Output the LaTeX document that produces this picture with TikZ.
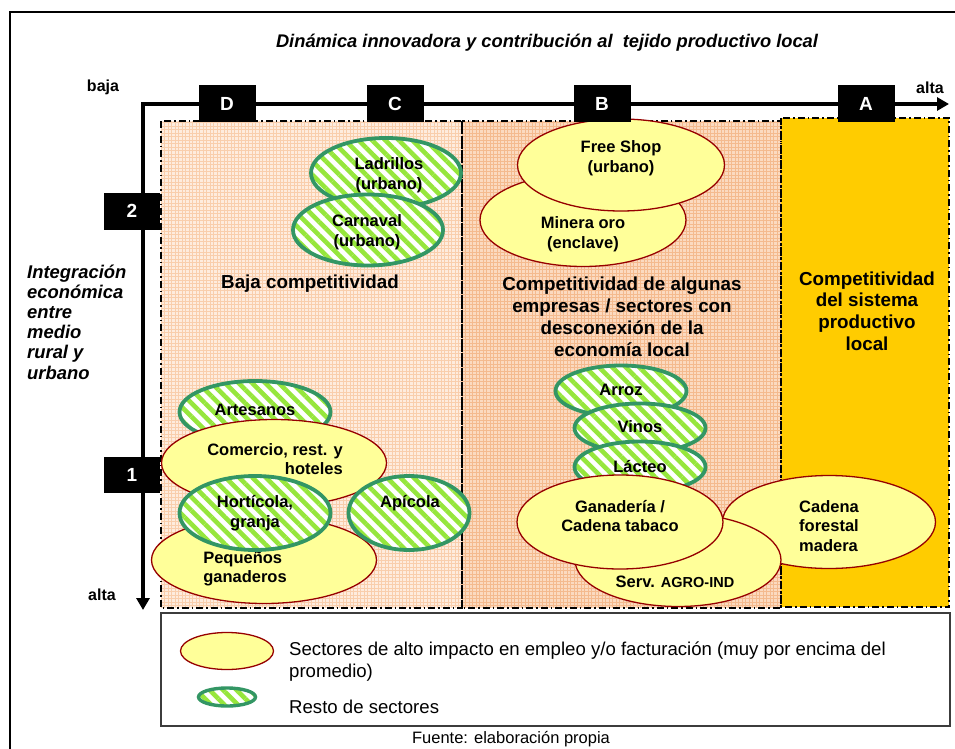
\documentclass[tikz,border=0pt]{standalone}
\usepackage{fontspec}
\setmainfont{Liberation Sans}
\usetikzlibrary{shapes.geometric,patterns.meta,arrows.meta}
\definecolor{peachL}{RGB}{254,236,222}
\definecolor{peachLg}{RGB}{249,206,172}
\definecolor{peachM}{RGB}{251,218,192}
\definecolor{peachMg}{RGB}{244,186,142}
\definecolor{gold}{RGB}{255,204,0}
\definecolor{lyellow}{RGB}{255,255,153}
\definecolor{dkred}{RGB}{150,0,0}
\definecolor{sgreen}{RGB}{51,150,100}
\definecolor{lgreen}{RGB}{150,230,60}
\definecolor{legframe}{RGB}{60,60,60}
\begin{document}
\begin{tikzpicture}[x=1pt,y=-1pt,
  yell/.style={ellipse, draw=dkred, line width=1.3pt, fill=lyellow, inner sep=0pt},
  stripe/.style={ellipse, draw=sgreen, line width=3.8pt, preaction={fill=white},
    pattern={Lines[angle=-45,distance=9.5pt,line width=4.6pt]}, pattern color=lgreen, inner sep=0pt},
  lbl/.style={font=\bfseries\fontsize{16.5}{19.5}\selectfont, align=center, inner sep=0pt},
  zone/.style={font=\bfseries\fontsize{18.8}{22}\selectfont, align=center, inner sep=0pt},
  blk/.style={fill=black, text=white, font=\bfseries\fontsize{19}{19}\selectfont,
    minimum width=57pt, minimum height=37pt, inner sep=0pt},
  axlbl/.style={font=\bfseries\fontsize{16}{18}\selectfont, inner sep=0pt},
  panelborder/.style={dash pattern=on 7pt off 3pt on 1.5pt off 3pt, line width=1.6pt},
  axisline/.style={line width=3.5pt, {Triangle[length=12pt,width=13pt]}-{Triangle[length=12pt,width=13pt]}},
  legtxt/.style={font=\fontsize{18.6}{22}\selectfont, align=left, inner sep=0pt, anchor=west}]

\useasboundingbox (0,0) rectangle (955,749);
\fill[white] (0,0) rectangle (955,749);

% outer frame
\draw[line width=2pt] (10,749) -- (10,12) -- (955,12);

% heading
\node[font=\bfseries\itshape\fontsize{18.3}{22}\selectfont, inner sep=0pt] (title) at (547,43)
  {Dinámica innovadora y contribución al\ \ tejido productivo local};

% zones D-C, B and A
\fill[peachL] (161,121) rectangle (462,608);
\begin{scope}
  \clip (161,121) rectangle (462,608);
  \draw[peachLg, line width=0.5pt, step=3.5pt] (161,121) grid (462,608);
\end{scope}
\fill[peachM] (462,121) rectangle (781,608);
\begin{scope}
  \clip (462,121) rectangle (781,608);
  \draw[peachMg, line width=0.5pt, step=3.5pt] (462,121) grid (781,608);
\end{scope}
\fill[gold] (781,118) rectangle (949,607);
\draw[panelborder] (161,121) rectangle (462,608);
\draw[panelborder] (462,121) rectangle (781,608);
\draw[panelborder] (781,118) rectangle (949,607);

% zone D-C sectors
\node[stripe, minimum width=150pt, minimum height=70pt] (ladr) at (386,173) {};
\node[lbl] (ladrt) at (389,175) {Ladrillos\\(urbano)};
\node[stripe, minimum width=150pt, minimum height=71pt] (carn) at (368,230) {};
\node[lbl] (carnt) at (367,232) {Carnaval\\(urbano)};
\node[zone] (bajac) at (310,284) {Baja competitividad};

\node[stripe, minimum width=151pt, minimum height=62pt] (arte) at (255,412) {};
\node[lbl] (artet) at (255,410) {Artesanos};
\node[yell, minimum width=225pt, minimum height=87pt] (peq) at (264,560) {};
\node[lbl, align=left] (peqt) at (245,569) {Pequeños\\ganaderos};
\node[yell, minimum width=225pt, minimum height=87pt] (comer) at (274,463) {};
\node[lbl, align=right] (comert) at (275,459) {Comercio, rest. y\\hoteles};
\node[stripe, minimum width=151pt, minimum height=74pt] (hort) at (255,513) {};
\node[lbl] (hortt) at (255,513) {Hortícola,\\granja};
\node[stripe, minimum width=121pt, minimum height=74pt] (apic) at (409,513) {};
\node[lbl] (apict) at (410,503) {Apícola};

% zone B sectors
\node[yell, minimum width=206pt, minimum height=93pt] (miner) at (583,220) {};
\node[lbl] (minert) at (583,234) {Minera oro\\(enclave)};
\node[yell, minimum width=207pt, minimum height=92pt] (fshop) at (621,165) {};
\node[lbl] (fshopt) at (621,158) {Free Shop\\(urbano)};
\node[zone] (bcomp) at (622,317) {Competitividad de algunas\\empresas / sectores con\\desconexión de la\\economía local};

\node[stripe, minimum width=131pt, minimum height=51pt] (arroz) at (621,391) {};
\node[lbl] (arrozt) at (621,390) {Arroz};
\node[stripe, minimum width=131pt, minimum height=49pt] (vinos) at (640,428) {};
\node[lbl] (vinost) at (640,427) {Vinos};
\node[stripe, minimum width=131pt, minimum height=51pt] (lact) at (640,467) {};
\node[lbl] (lactt) at (640,467) {Lácteo};

% zone A
\node[zone, font=\bfseries\fontsize{18.8}{21.7}\selectfont] (acomp) at (867,311) {Competitividad\\del sistema\\productivo\\local};
\node[yell, minimum width=213pt, minimum height=93pt] (caden) at (829,522) {};
\node[lbl, align=left] (cadent) at (829,526) {Cadena\\forestal\\madera};
\node[yell, minimum width=206pt, minimum height=93pt] (serv) at (678,560) {};
\node[lbl] (servt) at (675,582) {Serv. {\fontsize{14.5}{16}\selectfont AGRO-IND}};
\node[yell, minimum width=206pt, minimum height=94pt] (ganad) at (620,522) {};
\node[lbl] (ganadt) at (620,516) {Ganadería /\\Cadena tabaco};

% axes
\coordinate (orig) at (143,104);
\coordinate (xend) at (949,104);
\coordinate (yend) at (143,610);
\draw[axisline, line join=miter] (xend) -- (orig) -- (yend);

% level boxes
\node[blk] (bD) at (227,104) {D};
\node[blk] (bC) at (395,104) {C};
\node[blk] (bB) at (602,104) {B};
\node[blk] (bA) at (866,104) {A};
\node[blk, minimum width=56pt] (b2) at (132,211) {2};
\node[blk, minimum width=56pt, minimum height=36pt] (b1) at (132,475) {1};

\node[axlbl] (xlow) at (103,87) {baja};
\node[axlbl] (xhigh) at (930,88) {alta};
\node[axlbl] (yhigh) at (102,595) {alta};
\node[font=\bfseries\itshape\fontsize{18.4}{20.2}\selectfont, align=left, inner sep=0pt, anchor=west] (ylab) at (27,322)
  {Integración\\económica\\entre\\medio\\rural y\\urbano};

% legend
\draw[legframe, line width=1.5pt, fill=white] (161,613) rectangle (950,726);
\node[yell, minimum width=93pt, minimum height=37pt] (legy) at (227,651) {};
\node[stripe, line width=3.4pt, minimum width=57pt, minimum height=18pt] (legg) at (227,697) {};
\node[legtxt] (legyt) at (289,662) {Sectores de alto impacto en empleo y/o facturación (muy por encima del\\promedio)};
\node[legtxt] (leggt) at (289,707) {Resto de sectores};

\node[font=\fontsize{16.5}{18}\selectfont, inner sep=0pt] (src) at (511,739) {Fuente: elaboración propia};
\end{tikzpicture}
\end{document}
